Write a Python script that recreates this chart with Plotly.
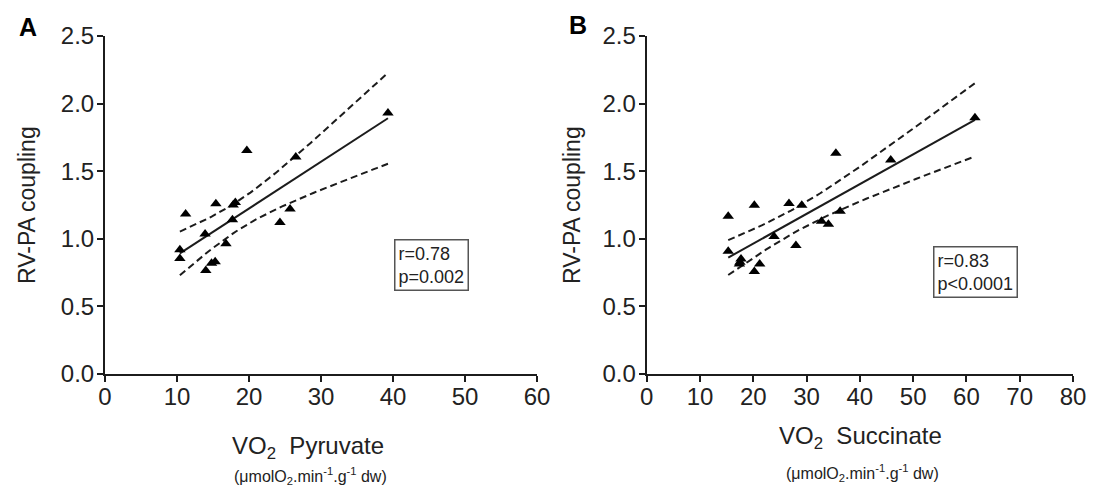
import math
import numpy as np
import plotly.graph_objects as go

# ---------------- data ----------------
pyruvate_x = [19.7, 26.5, 39.3, 11.2, 15.4, 18.1, 17.8, 25.7, 24.3, 17.7,
              13.9, 16.8, 10.4, 10.4, 15.3, 14.8, 14.0]
pyruvate_y = [1.654, 1.605, 1.931, 1.183, 1.259, 1.269, 1.25, 1.22, 1.12, 1.14,
              1.035, 0.963, 0.919, 0.854, 0.83, 0.82, 0.765]

succinate_x = [15.3, 20.2, 26.7, 29.1, 35.5, 45.8, 61.6, 36.3, 32.8, 34.1,
               23.9, 28.0, 15.3, 17.7, 17.5, 17.4, 21.2, 20.2]
succinate_y = [1.166, 1.249, 1.261, 1.249, 1.632, 1.582, 1.895, 1.204, 1.129, 1.107,
               1.017, 0.95, 0.908, 0.851, 0.826, 0.813, 0.813, 0.759]

stats_a = ["r=0.78", "p=0.002"]
stats_b = ["r=0.83", "p<0.0001"]

y_ticks = [0.0, 0.5, 1.0, 1.5, 2.0, 2.5]
x_ticks_a = [0, 10, 20, 30, 40, 50, 60]
x_ticks_b = [0, 10, 20, 30, 40, 50, 60, 70, 80]

FONT = "Liberation Sans, Arial, sans-serif"
INK = "#1c1c1c"


def t_quantile(p, df):
    xs = np.linspace(-60, 60, 200001)
    pdf = (math.gamma((df + 1) / 2) / (math.sqrt(df * math.pi) * math.gamma(df / 2))
           * (1 + xs ** 2 / df) ** (-(df + 1) / 2))
    cdf = np.cumsum(pdf) * (xs[1] - xs[0])
    return float(np.interp(p, cdf, xs))


def fit(xv, yv):
    x = np.asarray(xv, float)
    y = np.asarray(yv, float)
    n = len(x)
    b, a = np.polyfit(x, y, 1)
    res = y - (a + b * x)
    s = math.sqrt((res ** 2).sum() / (n - 2))
    sxx = ((x - x.mean()) ** 2).sum()
    t = t_quantile(0.975, n - 2)
    xs = np.linspace(x.min(), x.max(), 60)
    yh = a + b * xs
    se = s * np.sqrt(1 / n + (xs - x.mean()) ** 2 / sxx)
    return xs, yh, yh - t * se, yh + t * se


fig = go.Figure()

for xv, yv, xa, ya in [(pyruvate_x, pyruvate_y, "x", "y"),
                       (succinate_x, succinate_y, "x2", "y2")]:
    xs, yh, lo, hi = fit(xv, yv)
    fig.add_trace(go.Scatter(x=xs, y=hi, mode="lines", xaxis=xa, yaxis=ya,
                             line=dict(color=INK, width=2, dash="7px,4px"), showlegend=False))
    fig.add_trace(go.Scatter(x=xs, y=lo, mode="lines", xaxis=xa, yaxis=ya,
                             line=dict(color=INK, width=2, dash="7px,4px"), showlegend=False))
    fig.add_trace(go.Scatter(x=xs, y=yh, mode="lines", xaxis=xa, yaxis=ya,
                             line=dict(color=INK, width=2), showlegend=False))
    fig.add_trace(go.Scatter(x=xv, y=yv, mode="markers", xaxis=xa, yaxis=ya,
                             marker=dict(symbol="triangle-up", size=10, color="black"),
                             showlegend=False))

# page has an 8px body margin: figure is drawn at (8, 8)
OFF = 8
W, H = 1095 - 2 * OFF, 497 - 2 * OFF


def px(x):
    return (x - OFF) / W


def py(y):
    return 1 - (y - OFF) / H


ytop, ybot = 36, 374
ydom = [py(ybot), py(ytop)]

axis_common = dict(showline=True, linewidth=2, linecolor=INK, ticks="outside",
                   ticklen=6, tickwidth=2, tickcolor=INK, showgrid=False, zeroline=False,
                   tickfont=dict(family=FONT, size=24, color="#222"))

fig.update_layout(
    width=W, height=H,
    margin=dict(l=0, r=0, t=0, b=0),
    paper_bgcolor="white", plot_bgcolor="white",
    font=dict(family=FONT, color="#222"),
    xaxis=dict(domain=[px(105), px(537)], range=[0, 60], tickvals=x_ticks_a,
               anchor="y", automargin=False, ticklabelstandoff=-6, **axis_common),
    yaxis=dict(domain=ydom, range=[0, 2.5], tickvals=y_ticks, tickformat=".1f",
               anchor="x", automargin=False, ticklabelstandoff=-2, **axis_common),
    xaxis2=dict(domain=[px(646.7), px(1073)], range=[0, 80], tickvals=x_ticks_b,
                anchor="y2", automargin=False, ticklabelstandoff=-6, **axis_common),
    yaxis2=dict(domain=ydom, range=[0, 2.5], tickvals=y_ticks, tickformat=".1f",
                anchor="x2", automargin=False, ticklabelstandoff=-2, **axis_common),
)


def ann(x, y, text, size, **kw):
    color = kw.pop("color", "#222")
    fig.add_annotation(x=px(x), y=py(y), xref="paper", yref="paper",
                       xanchor="center", yanchor="middle",
                       text=text, showarrow=False,
                       font=dict(family=FONT, size=size, color=color), **kw)


# panel letters
ann(28, 27, "<b>A</b>", 25, color="black")
ann(578, 25, "<b>B</b>", 25, color="black")

# y titles
ann(27, 205, "RV-PA coupling", 23, textangle=-90)
ann(572, 205, "RV-PA coupling", 23, textangle=-90)

# x titles
sub = "(\u03bcmolO<sub>2</sub>.min<sup>-1</sup>.g<sup>-1</sup> dw)"
ann(308, 447, "VO<sub>2</sub>  Pyruvate", 24)
ann(310, 476, sub, 16)
ann(860, 437, "VO<sub>2</sub>  Succinate", 24)
ann(862, 473, sub, 16)

# stats boxes
ann(431, 265, "<br>".join(stats_a), 18, align="left", bordercolor="#555",
    borderwidth=1.5, borderpad=3, bgcolor="white")
ann(975, 272, "<br>".join(stats_b), 18, align="left", bordercolor="#555",
    borderwidth=1.5, borderpad=3, bgcolor="white")

fig.write_html("out.html")
